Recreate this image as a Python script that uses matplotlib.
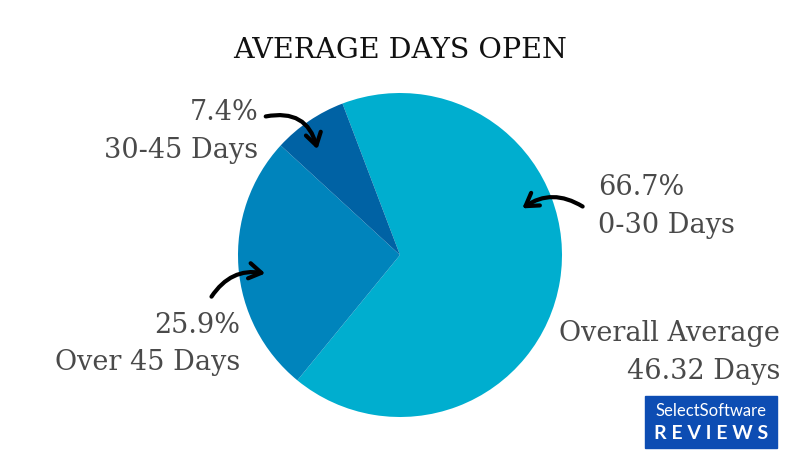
import matplotlib
matplotlib.use("Agg")
import matplotlib.pyplot as plt
from matplotlib.patches import FancyArrowPatch, Rectangle

labels = ["0-30 Days", "Over 45 Days", "30-45 Days"]
values = [66.7, 25.9, 7.4]
colors = ["#00AECF", "#0084BC", "#0062A4"]

W, H = 800, 465
fig = plt.figure(figsize=(8, 4.65), dpi=100)

cx, cy, r = 400, 255, 162
ax = fig.add_axes([(cx - r) / W, 1 - (cy + r) / H, 2 * r / W, 2 * r / H])
ax.pie(values, colors=colors, startangle=110.8, counterclock=False,
       wedgeprops=dict(linewidth=0))
ax.set_aspect("auto")
ax.set_xlim(-1, 1); ax.set_ylim(-1, 1)

bg = fig.add_axes([0, 0, 1, 1], zorder=5)
bg.patch.set_alpha(0)
bg.set_xlim(0, W); bg.set_ylim(H, 0); bg.axis("off")

serif = "DejaVu Serif"
tc = "#4a4a4a"
fs = 19.5
bg.text(400, 50, "AVERAGE DAYS OPEN", ha="center", va="center", fontsize=20.5, family=serif, color="#111111")
bg.text(258, 112, f"{values[2]}%", ha="right", va="center", fontsize=fs, family=serif, color=tc)
bg.text(258, 150, labels[2], ha="right", va="center", fontsize=fs, family=serif, color=tc)
bg.text(598, 187, f"{values[0]}%", ha="left", va="center", fontsize=fs, family=serif, color=tc)
bg.text(598, 225, labels[0], ha="left", va="center", fontsize=fs, family=serif, color=tc)
bg.text(240, 325, f"{values[1]}%", ha="right", va="center", fontsize=fs, family=serif, color=tc)
bg.text(240, 362, labels[1], ha="right", va="center", fontsize=fs, family=serif, color=tc)
bg.text(780, 333, "Overall Average", ha="right", va="center", fontsize=fs, family=serif, color=tc)
bg.text(780, 371, "46.32 Days", ha="right", va="center", fontsize=fs, family=serif, color=tc)

def arrow(p0, p1, rad):
    bg.add_patch(FancyArrowPatch(p0, p1, connectionstyle=f"arc3,rad={rad}",
                                 arrowstyle="->,head_length=4,head_width=2.5", lw=3, color="black",
                                 mutation_scale=2.2, capstyle="round", joinstyle="round"))
arrow((263, 117), (318, 152), -0.5)
arrow((585, 208), (520, 210), 0.35)
arrow((210, 299), (268, 274), -0.35)

bg.add_patch(Rectangle((645, 396), 132, 52, color="#0D4DB3"))
bg.text(711, 411, "SelectSoftware", ha="center", va="center", fontsize=12, family="Lato", color="white")
bg.text(711, 433, "R E V I E W S", ha="center", va="center", fontsize=14, family="Lato", weight="bold", color="white")

fig.savefig("out.png", dpi=100)
